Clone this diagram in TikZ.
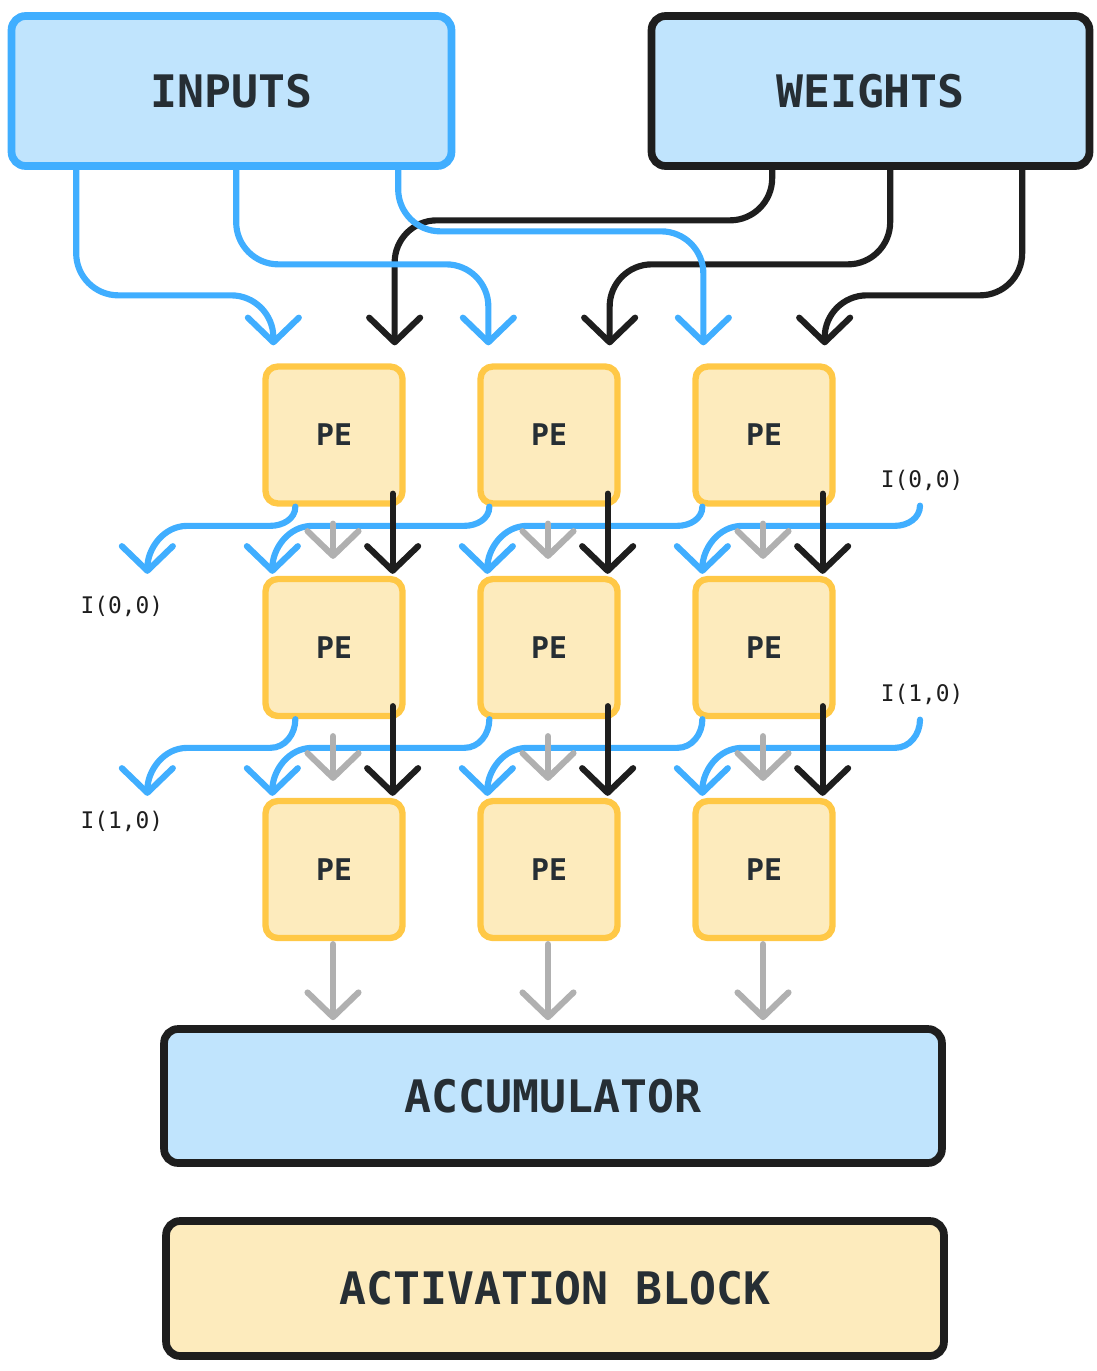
\documentclass[tikz,border=0pt]{standalone}
\usepackage{fontspec}
\setmonofont{DejaVu Sans Mono}
\usetikzlibrary{arrows.meta,calc}
\definecolor{flowblue}{RGB}{64,174,255}
\definecolor{fillblue}{RGB}{192,228,253}
\definecolor{peyellow}{RGB}{255,200,70}
\definecolor{fillyellow}{RGB}{253,235,189}
\definecolor{inkblack}{RGB}{30,30,30}
\definecolor{sumgray}{RGB}{176,176,176}
\definecolor{txtdark}{RGB}{38,46,52}

\begin{document}
\begin{tikzpicture}[x=0.02cm,y=0.02cm,
        bigtip/.style={-{Straight Barb[length=14pt,width=29pt,round]}},
        block/.style={draw=inkblack,line width=4.4pt,rounded corners=8pt,inner sep=0pt,
            text=txtdark,font=\ttfamily\bfseries\fontsize{25.5}{30}\selectfont},
        pe/.style={draw=peyellow,fill=fillyellow,line width=3.6pt,rounded corners=7pt,
            minimum size=2.74cm,inner sep=0pt,text=txtdark,
            font=\ttfamily\bfseries\fontsize{17}{20}\selectfont},
        tag/.style={inner sep=0pt,text=inkblack,font=\ttfamily\fontsize{13}{15}\selectfont},
        inflow/.style={bigtip,flowblue,line width=3.5pt,line cap=round},
        wflow/.style={bigtip,inkblack,line width=3.5pt,line cap=round},
        sumflow/.style={bigtip,sumgray,line width=3.5pt,line cap=round}]
        \useasboundingbox (0,0) rectangle (1097,-1371);

        \node[block,draw=flowblue,fill=fillblue,minimum width=8.8cm,minimum height=3.0cm] (inputs) at (231.5,-91) {INPUTS};
        \node[block,fill=fillblue,minimum width=8.76cm,minimum height=3.0cm] (weights) at (870.5,-91) {WEIGHTS};
        \foreach \c/\x in {1/334,2/549,3/764}{
            \foreach \r/\y in {1/-435,2/-647.5,3/-869.5}{
                \node[pe] (pe\r\c) at (\x,\y) {PE};
            }
        }
        \node[block,fill=fillblue,minimum width=15.56cm,minimum height=2.68cm] (accum) at (553,-1096) {ACCUMULATOR};
        \node[block,fill=fillyellow,minimum width=15.56cm,minimum height=2.7cm] (act) at (555,-1288.5) {ACTIVATION BLOCK};

        \node[tag] (lin1) at (922,-480) {I(0,0)};
        \node[tag] (lin2) at (922,-694) {I(1,0)};
        \node[tag] (lout1) at (122,-606) {I(0,0)};
        \node[tag] (lout2) at (122,-821) {I(1,0)};

        % weights and inputs into the first row
        \foreach \c/\sx/\hy in {1/124.5/125,2/242.5/81,3/374.5/50}{
            \coordinate (w\c) at ($(pe1\c.north east)+(-11,18)$);
            \draw[wflow,rounded corners=24pt] ($(weights.south west)+(\sx,0)$) |- ($(w\c)+(0,\hy)$) -- (w\c);
        }
        \foreach \c/\sx/\hy in {1/68.5/50,2/228.5/81,3/390.5/114}{
            \coordinate (i\c) at ($(pe1\c.north west)+(11,18)$);
            \draw[inflow,rounded corners=24pt] ($(inputs.south west)+(\sx,0)$) |- ($(i\c)+(0,\hy)$) -- (i\c);
        }

        % between the rows
        \foreach \r/\n in {1/2,2/3}{
            \coordinate (t\n0) at ($(pe\n1.north west)+(-115,2)$);
            \foreach \c in {1,2,3}{
                \coordinate (t\n\c) at ($(pe\n\c.north west)+(10,2)$);
            }
            \foreach \c/\sx [count=\p from 0] in {1/33,2/12,3/10}{
                \coordinate (s) at ($(pe\r\c.south west)+(\sx,0)$);
                \coordinate (b) at ($(t\n\p)+(40,48)$);
                \draw[inflow] (s) to[out=-90,in=0] ($(s |- b)+(-25,0)$) -- (b) to[out=180,in=90] (t\n\p);
            }
            \coordinate (s) at ($(lin\r.south)+(-2,-15)$);
            \coordinate (b) at ($(t\n3)+(40,48)$);
            \draw[inflow] (s) to[out=-90,in=0] ($(s |- b)+(-25,0)$) -- (b) to[out=180,in=90] (t\n3);
            \foreach \c in {1,2,3}{
                \draw[sumflow] ($(pe\r\c.south)+(-1,-17)$) -- ($(pe\n\c.north)+(-1,17)$);
                \draw[wflow] ($(pe\r\c.south east)+(-13,13)$) -- ($(pe\n\c.north east)+(-13,2)$);
            }
        }

        % partial sums into the accumulator
        \foreach \c in {1,2,3}{
            \draw[sumflow] ($(pe3\c.south)+(-1,-3)$) -- ($(pe3\c.south |- accum.north)+(-1,5)$);
        }
\end{tikzpicture}
\end{document}
